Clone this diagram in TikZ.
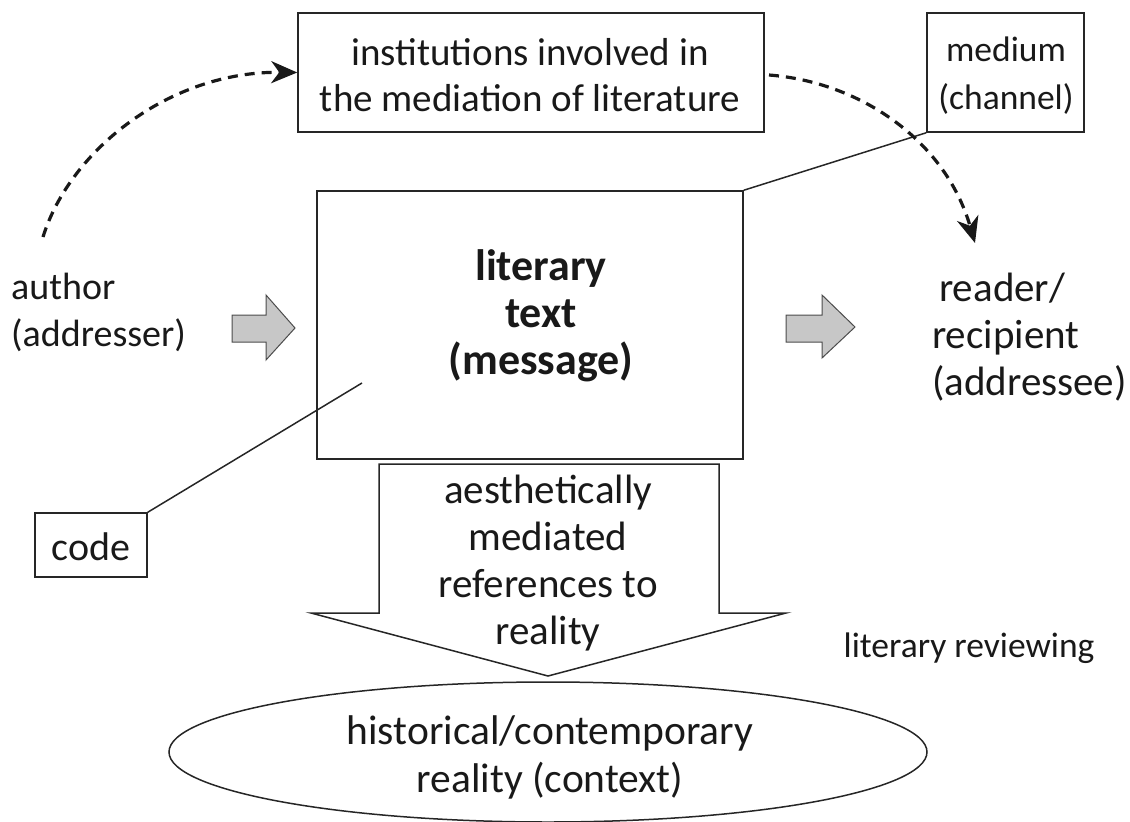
\documentclass[tikz,border=0pt]{standalone}
\usepackage{fontspec}
\setmainfont{Carlito}
\usetikzlibrary{arrows.meta,shapes.geometric}
\begin{document}
\begin{tikzpicture}[x=1pt,y=-1pt,
  box/.style={draw=black!85, line width=1.5pt, inner sep=0pt},
  txt/.style={font=\fontsize{41}{47}\selectfont, align=center, text=black!90, inner sep=0pt},
  smalltxt/.style={font=\fontsize{35.5}{48}\selectfont, align=center, text=black!90, inner sep=0pt},
  dasharrow/.style={line width=3.2pt, draw=black!90, dash pattern=on 10pt off 7pt, -{Stealth[length=26pt,width=22pt,inset=8pt]}},
  blockarrow/.style={fill=black!22, draw=black!70, line width=1pt, line join=miter},
  link/.style={line width=1.5pt, draw=black!85}
]
\useasboundingbox (0,0) rectangle (1130,822);

% boxes
\node[box, minimum width=466pt, minimum height=119pt] (inst) at (531,72.5) {};
\node[txt, font=\fontsize{39}{46}\selectfont] (insttxt) at (530,75) {institutions involved in\\the mediation of literature};
\node[box, minimum width=157pt, minimum height=119pt] (med) at (1005.5,72.5) {};
\node[smalltxt] (medtxt) at (1006,76) {medium\\(channel)};
\node[box, minimum width=426pt, minimum height=268pt] (main) at (530,325) {};
\node[txt, font=\fontsize{44}{47}\selectfont\bfseries] (msg) at (541,316) {literary\\text\\(message)};
\node[box, minimum width=112pt, minimum height=64pt] (code) at (91,545) {};
\node[txt, font=\fontsize{40}{47}\selectfont] (codetxt) at (91,547) {code};

% side texts
\node[txt, font=\fontsize{38}{47}\selectfont, align=left, anchor=west] (author) at (11,312) {author\\(addresser)};
\node[txt, align=left, anchor=west] (reader) at (932,337) {\hspace*{7pt}reader/\\recipient\\(addressee)};
\node[smalltxt] (review) at (969,648) {literary reviewing};

% down arrow
\draw[line width=1.5pt, draw=black!85, fill=white, line join=miter]
  (379,464) -- (719,464) -- (719,613) -- (786,613) -- (548,676) -- (311,613) -- (379,613) -- cycle;
\node[txt] (refs) at (548,563) {aesthetically\\mediated\\references to\\reality};

% ellipse
\node[ellipse, box, minimum width=758pt, minimum height=140pt] (ctx) at (548,752) {};
\node[txt, font=\fontsize{41.5}{48}\selectfont] (ctxtxt) at (550,757) {historical/contemporary\\reality (context)};

% block arrows
\draw[blockarrow] (232,315) -- (266,315) -- (266,295) -- (295,328) -- (266,360) -- (266,342) -- (232,342) -- cycle;
\draw[blockarrow] (786,315) -- (822,315) -- (822,295) -- (855,327) -- (822,358) -- (822,342) -- (786,342) -- cycle;

% connectors
\draw[link] (med.south west) -- (main.north east);
\coordinate (codeend) at (362,383);
\draw[link] (code.north east) -- (codeend);

\coordinate (authtop) at (43,237);
\draw[dasharrow] (authtop) .. controls (70,150) and (170,71) .. (inst.west);
\coordinate (instout) at (769,75);
\coordinate (readtop) at (975,243);
\draw[dasharrow] (instout) .. controls (860,82) and (945,140) .. (readtop);
\end{tikzpicture}
\end{document}
